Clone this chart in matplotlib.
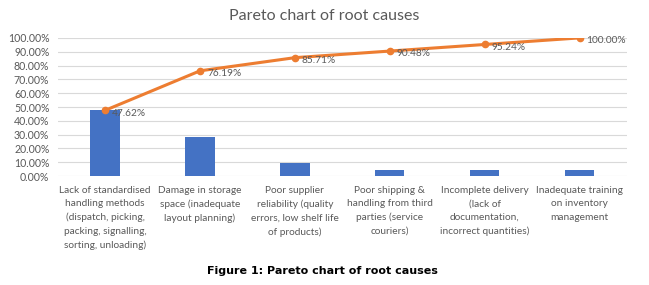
import matplotlib
matplotlib.use("Agg")
import matplotlib.pyplot as plt
from matplotlib.ticker import PercentFormatter

causes = [
    "Lack of standardised\nhandling methods\n(dispatch, picking,\npacking, signalling,\nsorting, unloading)",
    "Damage in storage\nspace (inadequate\nlayout planning)",
    "Poor supplier\nreliability (quality\nerrors, low shelf life\nof products)",
    "Poor shipping &\nhandling from third\nparties (service\ncouriers)",
    "Incomplete delivery\n(lack of\ndocumentation,\nincorrect quantities)",
    "Inadequate training\non inventory\nmanagement",
]
share = [47.62, 28.57, 9.52, 4.76, 4.76, 4.76]
cumulative = [47.62, 76.19, 85.71, 90.48, 95.24, 100.00]

GREY = "#595959"
plt.rcParams["font.family"] = ["Lato", "DejaVu Sans"]

fig = plt.figure(figsize=(6.49, 2.85), dpi=100)
ax = fig.add_axes([0.089, 0.382, 0.877, 0.485])

x = list(range(len(causes)))
ax.bar(x, share, width=0.31, color="#4472C4", zorder=3)
ax.plot(x, cumulative, color="#ED7D31", linewidth=2.2, marker="o",
        markersize=4.5, zorder=4)
for xi, v in zip(x, cumulative):
    ax.annotate(f"{v:.2f}%", (xi, v), xytext=(5, -2), textcoords="offset points",
                ha="left", va="center", fontsize=7.3, color=GREY, zorder=5)

ax.set_xlim(-0.5, len(causes) - 0.5)
ax.set_ylim(0, 100)
ax.set_yticks(range(0, 101, 10))
ax.yaxis.set_major_formatter(PercentFormatter(decimals=2))
ax.set_xticks(x)
ax.set_xticklabels(causes, fontsize=7.3, color=GREY, linespacing=1.62)
ax.tick_params(axis="y", labelsize=7.6, labelcolor=GREY, length=0, pad=6)
ax.tick_params(axis="x", length=0, pad=7)
ax.grid(axis="y", color="#d9d9d9", linewidth=0.8, zorder=0)
for s in ax.spines.values():
    s.set_visible(False)

fig.text(0.5, 0.945, "Pareto chart of root causes", ha="center", va="center",
         fontsize=11.5, color=GREY)
fig.text(0.497, 0.05, "Figure 1: Pareto chart of root causes", ha="center",
         va="center", fontsize=8, fontweight="bold", family=["DejaVu Sans"])

fig.savefig("out.png", dpi=100)
